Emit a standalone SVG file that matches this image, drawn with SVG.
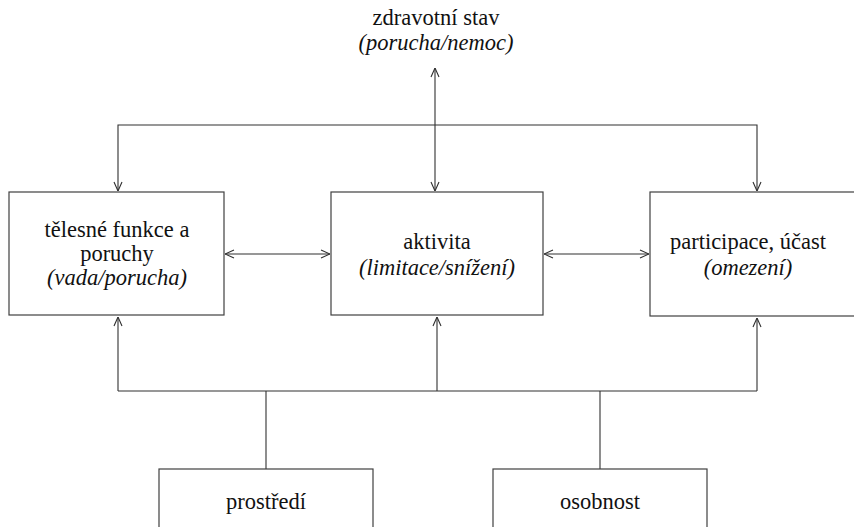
<svg xmlns="http://www.w3.org/2000/svg" width="854" height="527" viewBox="0 0 854 527">
<defs>
<marker id="ah" viewBox="0 0 10 10" refX="10" refY="5" markerWidth="10" markerHeight="10" markerUnits="userSpaceOnUse" orient="auto-start-reverse">
<path d="M1,1 L10,5 L1,9" fill="none" stroke="#303030" stroke-width="1.1"/>
</marker>
</defs>
<rect width="854" height="527" fill="#fff"/>
<g id="connectors" fill="none" stroke="#303030" stroke-width="1.1">
<path d="M118,191 V125 H757 V191" marker-start="url(#ah)" marker-end="url(#ah)"/>
<path d="M435,68 V191" marker-start="url(#ah)" marker-end="url(#ah)"/>
<path d="M225,254 H330" marker-start="url(#ah)" marker-end="url(#ah)"/>
<path d="M544,254 H649" marker-start="url(#ah)" marker-end="url(#ah)"/>
<path d="M118,391 H757"/>
<path d="M118,391 V317" marker-end="url(#ah)"/>
<path d="M437,391 V317" marker-end="url(#ah)"/>
<path d="M757,391 V318" marker-end="url(#ah)"/>
<path d="M266,391 V469"/>
<path d="M600,391 V469"/>
</g>
<g font-family="Liberation Serif" font-size="22.5" text-anchor="middle" fill="#111">
<g id="zdravotni-stav">
<text x="436" y="25">zdravotní stav</text>
<text x="436" y="50" font-style="italic">(porucha/nemoc)</text>
</g>
<g id="telesne-funkce">
<rect x="9" y="192" width="215" height="123" fill="#fff" stroke="#404040" stroke-width="1.2"/>
<text x="117" y="237">tělesné funkce a</text>
<text x="117" y="261">poruchy</text>
<text x="117" y="285" font-style="italic">(vada/porucha)</text>
</g>
<g id="aktivita">
<rect x="331" y="192" width="212" height="123" fill="#fff" stroke="#404040" stroke-width="1.2"/>
<text x="437" y="249">aktivita</text>
<text x="437" y="275" font-style="italic">(limitace/snížení)</text>
</g>
<g id="participace">
<rect x="650" y="192" width="220" height="124" fill="#fff" stroke="#404040" stroke-width="1.2"/>
<text x="748" y="249">participace, účast</text>
<text x="748" y="275" font-style="italic">(omezení)</text>
</g>
<g id="prostredi">
<rect x="159" y="469" width="214" height="80" fill="#fff" stroke="#404040" stroke-width="1.2"/>
<text x="266" y="509">prostředí</text>
</g>
<g id="osobnost">
<rect x="493" y="469" width="214" height="80" fill="#fff" stroke="#404040" stroke-width="1.2"/>
<text x="600" y="509">osobnost</text>
</g>
</g>
</svg>
